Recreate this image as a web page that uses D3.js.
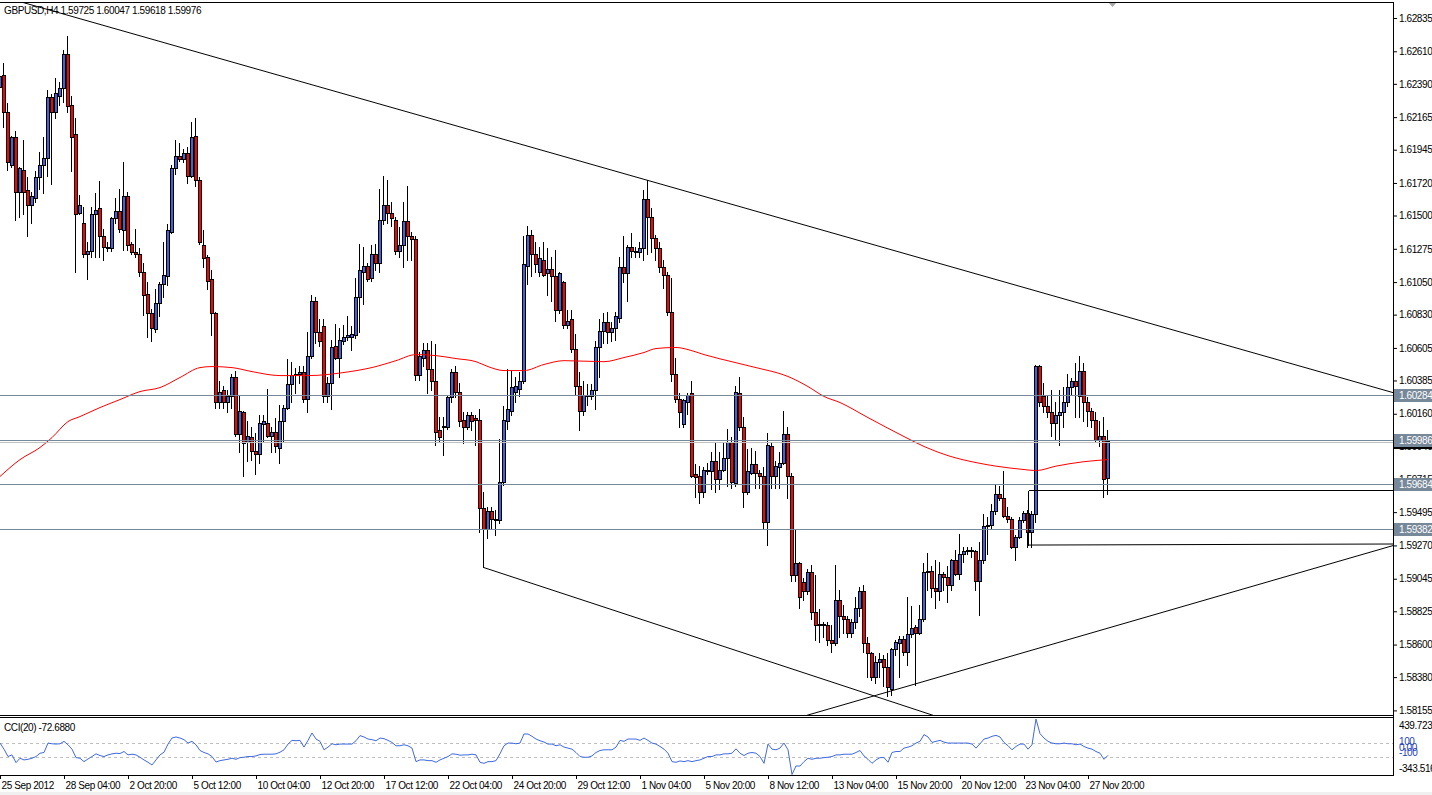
<!DOCTYPE html>
<html>
<head>
<meta charset="utf-8">
<script src="https://cdn.jsdelivr.net/npm/d3@7"></script>
<style>
html, body { margin: 0; padding: 0; background: #fff; }
svg { display: block; }
text { font-family: "Liberation Sans", Arial, sans-serif; font-size: 10px; letter-spacing: -0.4px; }
</style>
</head>
<body>
<svg id="chart" width="1432" height="795"></svg>
<script>
// GBPUSD H4 bars, one row per bar: open, high, low, close
const candles = [
[1.6237,1.6264,1.6214,1.6244],[1.6245,1.6253,1.6210,1.6220],[1.6220,1.6226,1.6181,1.6186],[1.6184,1.6204,1.6183,1.6203],
[1.6203,1.6207,1.6147,1.6166],[1.6166,1.6183,1.6149,1.6182],[1.6181,1.6201,1.6151,1.6166],[1.6167,1.6176,1.6136,1.6157],
[1.6157,1.6166,1.6145,1.6163],[1.6162,1.6180,1.6159,1.6176],[1.6176,1.6193,1.6168,1.6184],[1.6184,1.6203,1.6165,1.6189],
[1.6189,1.6235,1.6177,1.6230],[1.6230,1.6232,1.6171,1.6220],[1.6220,1.6243,1.6216,1.6233],[1.6231,1.6240,1.6225,1.6236],
[1.6236,1.6262,1.6227,1.6259],[1.6259,1.6271,1.6220,1.6224],[1.6225,1.6231,1.6180,1.6203],[1.6205,1.6216,1.6112,1.6151],
[1.6152,1.6164,1.6151,1.6157],[1.6145,1.6156,1.6122,1.6124],[1.6124,1.6132,1.6107,1.6126],[1.6126,1.6156,1.6122,1.6151],
[1.6151,1.6165,1.6122,1.6154],[1.6155,1.6173,1.6122,1.6136],[1.6136,1.6141,1.6120,1.6129],[1.6129,1.6132,1.6126,1.6128],
[1.6128,1.6149,1.6126,1.6148],[1.6148,1.6162,1.6145,1.6153],[1.6153,1.6168,1.6139,1.6141],[1.6140,1.6186,1.6127,1.6163],
[1.6163,1.6166,1.6127,1.6130],[1.6131,1.6132,1.6124,1.6125],[1.6125,1.6141,1.6122,1.6124],[1.6124,1.6128,1.6109,1.6112],
[1.6112,1.6118,1.6083,1.6096],[1.6097,1.6105,1.6068,1.6084],[1.6084,1.6087,1.6065,1.6074],[1.6073,1.6100,1.6071,1.6091],
[1.6091,1.6105,1.6082,1.6104],[1.6104,1.6132,1.6095,1.6110],[1.6109,1.6144,1.6103,1.6140],[1.6139,1.6184,1.6138,1.6182],
[1.6182,1.6201,1.6178,1.6190],[1.6190,1.6199,1.6187,1.6188],[1.6188,1.6195,1.6186,1.6192],[1.6192,1.6196,1.6172,1.6177],
[1.6177,1.6213,1.6176,1.6203],[1.6204,1.6216,1.6170,1.6174],[1.6174,1.6176,1.6131,1.6132],[1.6130,1.6140,1.6115,1.6121],
[1.6122,1.6123,1.6100,1.6106],[1.6107,1.6113,1.6069,1.6084],[1.6084,1.6085,1.6020,1.6024],[1.6024,1.6038,1.6020,1.6031],
[1.6032,1.6035,1.6020,1.6024],[1.6024,1.6032,1.6017,1.6028],[1.6028,1.6043,1.6020,1.6041],[1.6041,1.6045,1.6001,1.6002],
[1.6002,1.6028,1.5990,1.6018],[1.6017,1.6018,1.5974,1.5996],[1.5997,1.6011,1.5984,1.6001],[1.6000,1.6007,1.5985,1.5991],
[1.5991,1.6003,1.5975,1.5989],[1.5989,1.6015,1.5983,1.6010],[1.6009,1.6015,1.5997,1.6011],[1.6010,1.6033,1.6000,1.6001],
[1.6001,1.6007,1.5990,1.6004],[1.6004,1.6013,1.5990,1.5994],[1.5993,1.6022,1.5983,1.6011],[1.6011,1.6022,1.5997,1.6020],
[1.6020,1.6053,1.6019,1.6036],[1.6036,1.6051,1.6024,1.6042],[1.6042,1.6047,1.6030,1.6043],[1.6043,1.6048,1.6037,1.6044],
[1.6044,1.6048,1.6024,1.6026],[1.6026,1.6071,1.6017,1.6055],[1.6055,1.6096,1.6054,1.6092],[1.6092,1.6095,1.6064,1.6071],
[1.6071,1.6080,1.6062,1.6065],[1.6075,1.6080,1.6024,1.6028],[1.6028,1.6041,1.6024,1.6037],[1.6037,1.6066,1.6019,1.6061],
[1.6062,1.6077,1.6053,1.6054],[1.6054,1.6074,1.6041,1.6066],[1.6065,1.6076,1.6063,1.6068],[1.6068,1.6082,1.6066,1.6069],
[1.6068,1.6075,1.6059,1.6070],[1.6069,1.6108,1.6067,1.6095],[1.6095,1.6131,1.6071,1.6113],[1.6112,1.6129,1.6090,1.6116],
[1.6116,1.6118,1.6106,1.6107],[1.6108,1.6130,1.6106,1.6124],[1.6124,1.6131,1.6113,1.6118],[1.6118,1.6168,1.6112,1.6147],
[1.6147,1.6177,1.6144,1.6157],[1.6157,1.6174,1.6145,1.6152],[1.6152,1.6159,1.6143,1.6148],[1.6147,1.6149,1.6124,1.6126],
[1.6126,1.6142,1.6122,1.6130],[1.6130,1.6159,1.6115,1.6146],[1.6146,1.6170,1.6120,1.6136],[1.6136,1.6139,1.6120,1.6134],
[1.6134,1.6136,1.6039,1.6042],[1.6042,1.6058,1.6039,1.6055],[1.6054,1.6064,1.6048,1.6059],[1.6059,1.6064,1.6030,1.6046],
[1.6046,1.6065,1.6032,1.6038],[1.6038,1.6063,1.5995,1.6004],[1.6005,1.6014,1.5997,1.6000],[1.6007,1.6014,1.5988,1.6008],
[1.6007,1.6029,1.6006,1.6027],[1.6027,1.6046,1.6024,1.6044],[1.6044,1.6048,1.6027,1.6031],[1.6031,1.6037,1.6008,1.6011],
[1.6012,1.6017,1.5996,1.6007],[1.6007,1.6017,1.6006,1.6015],[1.6015,1.6017,1.6005,1.6011],[1.6013,1.6015,1.5995,1.6012],
[1.6012,1.6019,1.5936,1.5952],[1.5952,1.5963,1.5932,1.5938],[1.5938,1.5953,1.5932,1.5950],[1.5950,1.5953,1.5939,1.5945],
[1.5944,1.5951,1.5934,1.5945],[1.5944,1.5999,1.5942,1.5970],[1.5970,1.6021,1.5968,1.6012],[1.6011,1.6046,1.6006,1.6019],
[1.6018,1.6045,1.6015,1.6034],[1.6031,1.6041,1.6024,1.6035],[1.6033,1.6044,1.6028,1.6038],[1.6038,1.6136,1.6037,1.6117],
[1.6116,1.6143,1.6104,1.6137],[1.6137,1.6140,1.6109,1.6124],[1.6124,1.6132,1.6112,1.6117],[1.6112,1.6129,1.6109,1.6121],
[1.6120,1.6132,1.6109,1.6110],[1.6111,1.6128,1.6096,1.6114],[1.6114,1.6122,1.6092,1.6109],[1.6109,1.6127,1.6079,1.6086],
[1.6086,1.6112,1.6084,1.6111],[1.6105,1.6106,1.6074,1.6076],[1.6076,1.6086,1.6074,1.6079],[1.6080,1.6086,1.6058,1.6060],
[1.6060,1.6070,1.6029,1.6035],[1.6035,1.6044,1.6005,1.6018],[1.6018,1.6038,1.6015,1.6029],[1.6028,1.6036,1.6022,1.6029],
[1.6028,1.6036,1.6026,1.6032],[1.6032,1.6065,1.6019,1.6061],[1.6061,1.6080,1.6041,1.6072],[1.6072,1.6084,1.6064,1.6078],
[1.6078,1.6085,1.6064,1.6071],[1.6071,1.6078,1.6065,1.6074],[1.6074,1.6085,1.6066,1.6082],[1.6081,1.6122,1.6078,1.6115],
[1.6115,1.6136,1.6105,1.6111],[1.6111,1.6130,1.6092,1.6129],[1.6129,1.6138,1.6122,1.6126],[1.6126,1.6129,1.6122,1.6125],
[1.6125,1.6132,1.6122,1.6128],[1.6128,1.6167,1.6120,1.6161],[1.6161,1.6174,1.6124,1.6149],[1.6149,1.6155,1.6125,1.6135],
[1.6135,1.6137,1.6120,1.6128],[1.6128,1.6132,1.6112,1.6115],[1.6115,1.6120,1.6101,1.6110],[1.6110,1.6112,1.6083,1.6085],
[1.6085,1.6108,1.6038,1.6043],[1.6043,1.6054,1.6024,1.6026],[1.6026,1.6030,1.6007,1.6017],[1.6009,1.6026,1.6007,1.6025],
[1.6024,1.6030,1.6016,1.6029],[1.6030,1.6038,1.5973,1.5974],[1.5975,1.5982,1.5960,1.5973],[1.5974,1.5981,1.5956,1.5963],
[1.5963,1.5980,1.5960,1.5978],[1.5977,1.5983,1.5975,1.5978],[1.5977,1.5990,1.5965,1.5984],[1.5984,1.5997,1.5963,1.5972],
[1.5972,1.5990,1.5965,1.5978],[1.5978,1.5997,1.5977,1.5986],[1.5986,1.6006,1.5967,1.5997],[1.5997,1.6000,1.5966,1.5970],
[1.5969,1.6035,1.5967,1.6031],[1.6030,1.6041,1.6005,1.6007],[1.6007,1.6014,1.5953,1.5963],[1.5963,1.5992,1.5962,1.5977],
[1.5976,1.5993,1.5975,1.5982],[1.5982,1.5991,1.5966,1.5976],[1.5976,1.5978,1.5966,1.5974],[1.5974,1.5980,1.5938,1.5943],
[1.5943,1.6003,1.5927,1.5995],[1.5994,1.5997,1.5966,1.5974],[1.5974,1.5984,1.5966,1.5981],[1.5980,1.5990,1.5966,1.5983],
[1.5983,1.6018,1.5982,1.6002],[1.6002,1.6007,1.5959,1.5974],[1.5974,1.5976,1.5903,1.5907],[1.5907,1.5938,1.5903,1.5915],
[1.5915,1.5916,1.5885,1.5892],[1.5902,1.5905,1.5890,1.5896],[1.5896,1.5911,1.5894,1.5909],[1.5909,1.5914,1.5877,1.5882],
[1.5882,1.5907,1.5863,1.5873],[1.5873,1.5884,1.5862,1.5874],[1.5874,1.5875,1.5865,1.5873],[1.5873,1.5875,1.5860,1.5863],
[1.5863,1.5873,1.5855,1.5861],[1.5861,1.5914,1.5860,1.5890],[1.5890,1.5897,1.5865,1.5879],[1.5879,1.5887,1.5868,1.5877],
[1.5877,1.5879,1.5865,1.5868],[1.5868,1.5877,1.5865,1.5875],[1.5875,1.5892,1.5871,1.5885],[1.5885,1.5899,1.5879,1.5896],
[1.5896,1.5900,1.5855,1.5861],[1.5861,1.5865,1.5838,1.5854],[1.5854,1.5855,1.5836,1.5838],[1.5838,1.5852,1.5834,1.5848],
[1.5848,1.5854,1.5838,1.5850],[1.5850,1.5853,1.5832,1.5845],[1.5845,1.5854,1.5825,1.5831],[1.5830,1.5858,1.5826,1.5857],
[1.5857,1.5863,1.5853,1.5862],[1.5861,1.5866,1.5838,1.5864],[1.5864,1.5866,1.5853,1.5855],[1.5855,1.5892,1.5846,1.5867],
[1.5867,1.5886,1.5865,1.5871],[1.5872,1.5873,1.5833,1.5868],[1.5868,1.5887,1.5867,1.5877],[1.5877,1.5915,1.5876,1.5909],
[1.5909,1.5922,1.5897,1.5910],[1.5910,1.5913,1.5892,1.5898],[1.5898,1.5917,1.5885,1.5896],[1.5896,1.5916,1.5890,1.5908],
[1.5908,1.5909,1.5897,1.5906],[1.5906,1.5913,1.5889,1.5900],[1.5900,1.5918,1.5897,1.5917],[1.5917,1.5924,1.5907,1.5908],
[1.5908,1.5935,1.5904,1.5921],[1.5921,1.5926,1.5916,1.5923],[1.5923,1.5926,1.5921,1.5924],[1.5924,1.5926,1.5919,1.5923],
[1.5923,1.5924,1.5897,1.5903],[1.5903,1.5929,1.5880,1.5917],[1.5917,1.5948,1.5915,1.5940],[1.5940,1.5946,1.5921,1.5941],
[1.5941,1.5955,1.5939,1.5950],[1.5950,1.5968,1.5948,1.5962],[1.5962,1.5967,1.5958,1.5959],[1.5959,1.5977,1.5946,1.5947],
[1.5947,1.5953,1.5943,1.5945],[1.5945,1.5946,1.5925,1.5926],[1.5926,1.5934,1.5917,1.5933],[1.5933,1.5946,1.5932,1.5944],
[1.5944,1.5950,1.5943,1.5949],[1.5949,1.5951,1.5926,1.5936],[1.5936,1.5950,1.5926,1.5948],[1.5948,1.6049,1.5943,1.6048],
[1.6048,1.6049,1.6021,1.6024],[1.6028,1.6037,1.6017,1.6021],[1.6021,1.6028,1.6014,1.6017],[1.6017,1.6032,1.6001,1.6010],
[1.6010,1.6024,1.5998,1.6015],[1.6015,1.6032,1.5995,1.6017],[1.6017,1.6034,1.6007,1.6024],[1.6024,1.6043,1.6021,1.6034],
[1.6034,1.6040,1.6029,1.6038],[1.6038,1.6050,1.6014,1.6035],[1.6028,1.6055,1.6014,1.6045],[1.6045,1.6050,1.6011,1.6024],
[1.6024,1.6027,1.6008,1.6018],[1.6018,1.6020,1.6007,1.6012],[1.6012,1.6017,1.5997,1.5998],[1.5998,1.6011,1.5994,1.6001],
[1.6001,1.6014,1.5960,1.5972],[1.59725,1.60047,1.59618,1.59976]
];

// CCI(20), one value per bar
const cciValues = [
100,14,-90,-67,-176,-114,-138,-129,-114,-90,-43,-33,100,90,86,90,124,76,14,-105,
-114,-162,-124,-90,-52,-76,-90,-67,-52,-43,-48,-19,-67,-57,-67,-100,-138,-171,-209,-138,
-67,-29,86,171,186,171,148,100,124,76,-5,-33,-52,-90,-167,-148,-138,-129,-114,-129,
-105,-100,-90,-90,-81,-62,-57,-57,-57,-52,-29,5,86,138,133,138,43,138,243,157,
124,5,43,90,76,86,86,86,86,133,205,186,157,148,133,171,162,138,109,62,
62,76,62,29,-162,-138,-138,-148,-148,-171,-138,-114,-90,-52,-57,-71,-67,-67,-57,-67,
-171,-186,-162,-162,-148,-50,62,100,100,90,100,228,228,195,157,133,114,86,86,62,
76,43,29,14,-33,-90,-100,-100,-81,-33,-5,5,5,5,43,138,124,157,157,157,
138,171,138,100,86,52,14,-43,-162,-171,-152,-162,-148,-162,-148,-138,-114,-90,-90,-67,
-67,-52,-52,-43,19,-43,-76,-43,-33,-43,-90,-186,86,14,5,29,100,5,-343.516,-224,
-224,-162,-114,-129,-114,-114,-105,-100,-90,-67,-67,-57,-57,-57,-33,-5,-81,-129,-186,-138,
-105,-105,-171,-33,-19,-19,29,43,62,100,124,219,186,109,124,138,114,100,100,100,
100,100,100,86,29,90,157,171,195,209,186,109,62,5,52,86,86,14,76,439.723,
233,171,124,100,90,90,100,90,90,76,86,52,29,14,-19,-43,-129,-72.688
];

// moving average read at a subset of bars
const maBars = [0,5,10,13,17,20,25,30,35,40,45,50,53,58,63,70,77,86,94,99,104,109,114,119,122,126,131,136,
  141,151,156,161,164,169,172,176,184,189,197,202,206,210,217,226,231,237,244,249,256,259,264,271,277];
const maValues = [1.59736,1.59850,1.59932,1.59999,1.60107,1.60141,1.60202,1.60256,1.60310,1.60337,1.60405,
  1.60472,1.60479,1.60472,1.60445,1.60418,1.60418,1.60439,1.60479,1.60519,1.60560,1.60553,1.60533,1.60512,
  1.60479,1.60452,1.60452,1.60493,1.60519,1.60512,1.60540,1.60574,1.60601,1.60608,1.60594,1.60560,1.60505,
  1.60472,1.60412,1.60344,1.60277,1.60236,1.60134,1.60006,1.59939,1.59877,1.59830,1.59806,1.59783,1.59776,
  1.59806,1.59836,1.59850];

const priceTicks = [1.62835,1.62610,1.62390,1.62165,1.61945,1.61720,1.61500,1.61275,1.61050,1.60830,1.60605,
  1.60385,1.60160,1.59940,1.59715,1.59495,1.59270,1.59045,1.58825,1.58600,1.58380,1.58155];
const timeLabels = ["25 Sep 2012","28 Sep 04:00","2 Oct 20:00","5 Oct 12:00","10 Oct 04:00","12 Oct 20:00",
  "17 Oct 12:00","22 Oct 04:00","24 Oct 20:00","29 Oct 12:00","1 Nov 04:00","5 Nov 20:00","8 Nov 12:00",
  "13 Nov 04:00","15 Nov 20:00","20 Nov 12:00","23 Nov 04:00","27 Nov 20:00"];
const levelPrices = [1.60284, 1.59986, 1.59684, 1.59382];
const bidPrice = 1.59976;
const cciRange = [-343.516, 439.723];
const cciLevels = [100, -100];

// trend lines as [bar, price] anchors
const trendTop = [[29.5, 1.62757], [348.25, 1.60303]];
const trendLowLeft = [[121, 1.59120], [232, 1.58133]];
const trendLowRight = [[218.75, 1.58255], [348.25, 1.59269]];
const boxBar = 257, boxTop = 1.59648, boxBottom = [1.59276, 1.59283];

const axisX = 1393;
const svg = d3.select("#chart");

const x = d3.scaleLinear().domain([0, 348.25]).range([0, axisX]);
const y = d3.scaleLinear().domain([1.58155, 1.62835]).range([710.4, 18]);
const yc = d3.scaleLinear().domain(cciRange).range([774.5, 719]);

const defs = svg.append("defs");
defs.append("clipPath").attr("id", "clipMain").append("rect")
    .attr("x", 0).attr("y", 3).attr("width", axisX).attr("height", 712);
defs.append("clipPath").attr("id", "clipCci").append("rect")
    .attr("x", 0).attr("y", 718).attr("width", axisX).attr("height", 57);

// bottom strip
svg.append("rect").attr("x", 0).attr("y", 792).attr("width", 1432).attr("height", 3).attr("fill", "#f0f0f0");

const main = svg.append("g").attr("clip-path", "url(#clipMain)");

// candles
const bars = main.append("g").attr("shape-rendering", "crispEdges");
bars.selectAll("line")
    .data(candles)
    .join("line")
    .attr("x1", (d, i) => Math.round(x(i)) - 0.5)
    .attr("x2", (d, i) => Math.round(x(i)) - 0.5)
    .attr("y1", d => Math.round(y(d[1])))
    .attr("y2", d => Math.round(y(d[2])) + 1)
    .attr("stroke", "#000");
bars.selectAll("rect")
    .data(candles)
    .join("rect")
    .attr("x", (d, i) => Math.round(x(i)) - 1.5)
    .attr("width", 3)
    .attr("y", d => Math.round(y(Math.max(d[0], d[3]))) + 0.5)
    .attr("height", d => Math.max(1, Math.round(y(Math.min(d[0], d[3]))) - Math.round(y(Math.max(d[0], d[3])))))
    .attr("fill", d => d[3] >= d[0] ? "#3f63dc" : "#ff0000")
    .attr("stroke", "#000");

// moving average
main.append("path")
    .datum(maValues)
    .attr("fill", "none")
    .attr("stroke", "#ff0000")
    .attr("stroke-width", 1)
    .attr("d", d3.line().x((d, i) => x(maBars[i])).y(d => y(d)).curve(d3.curveMonotoneX));

// horizontal levels
const lv = main.append("g").attr("shape-rendering", "crispEdges");
lv.selectAll("line")
    .data(levelPrices)
    .join("line")
    .attr("x1", 0).attr("x2", axisX)
    .attr("y1", d => Math.round(y(d)) + 0.5).attr("y2", d => Math.round(y(d)) + 0.5)
    .attr("stroke", "#778899");
lv.append("line")
    .attr("x1", 0).attr("x2", axisX)
    .attr("y1", Math.round(y(bidPrice)) + 1.5).attr("y2", Math.round(y(bidPrice)) + 1.5)
    .attr("stroke", "#c0c0c0");

// trend lines
function extend(a, b, k0, k1) {
    const s = (b[1] - a[1]) / (b[0] - a[0]);
    return [[k0, a[1] + s * (k0 - a[0])], [k1, a[1] + s * (k1 - a[0])]];
}
const seg = d3.line().x(d => x(d[0])).y(d => y(d[1]));
const tl = main.append("g").attr("fill", "none").attr("stroke", "#000");
tl.append("path").attr("d", seg(extend(trendTop[0], trendTop[1], 0, 348.25)));
tl.append("path").attr("d", seg(extend(trendLowLeft[0], trendLowLeft[1], 121, 260)));
tl.append("path").attr("d", seg(extend(trendLowRight[0], trendLowRight[1], 195, 348.25)));
const tlc = main.append("g").attr("stroke", "#000").attr("shape-rendering", "crispEdges");
tlc.append("line")
    .attr("x1", Math.round(x(121)) - 0.5).attr("x2", Math.round(x(121)) - 0.5)
    .attr("y1", y(candles[121][2])).attr("y2", y(trendLowLeft[0][1]));
tlc.append("line")
    .attr("x1", Math.round(x(boxBar)) + 0.5).attr("x2", Math.round(x(boxBar)) + 0.5)
    .attr("y1", Math.round(y(boxTop)) + 0.5).attr("y2", Math.round(y(boxBottom[0])) + 0.5);
tlc.append("line")
    .attr("x1", Math.round(x(boxBar)) + 0.5).attr("x2", axisX)
    .attr("y1", Math.round(y(boxTop)) + 0.5).attr("y2", Math.round(y(boxTop)) + 0.5);
main.append("line").attr("stroke", "#000")
    .attr("x1", Math.round(x(boxBar)) + 0.5).attr("x2", axisX)
    .attr("y1", y(boxBottom[0]) + 0.5).attr("y2", y(boxBottom[1]) + 0.5);

// chart shift marker
svg.append("path").attr("d", "M1108,2 L1117,2 L1112.5,7 Z").attr("fill", "#a8a8a8");

// header
svg.append("text").attr("x", 4).attr("y", 14).attr("fill", "#000")
    .text("GBPUSD,H4  " + candles[candles.length - 1].map(d => d.toFixed(5)).join(" "));

// CCI panel
const cp = svg.append("g").attr("clip-path", "url(#clipCci)");
cp.selectAll("line")
    .data(cciLevels)
    .join("line")
    .attr("x1", 0).attr("x2", axisX)
    .attr("y1", d => Math.round(yc(d)) + 0.5).attr("y2", d => Math.round(yc(d)) + 0.5)
    .attr("stroke", "#c0c0c0").attr("stroke-dasharray", "3,3").attr("shape-rendering", "crispEdges");
cp.append("path")
    .datum(cciValues)
    .attr("fill", "none")
    .attr("stroke", "#4169e1")
    .attr("d", d3.line().x((d, i) => x(i)).y(d => yc(d)));
svg.append("text").attr("x", 4).attr("y", 731).attr("fill", "#000")
    .text("CCI(20) " + cciValues[cciValues.length - 1].toFixed(4));

// frame
const fr = svg.append("g").attr("stroke", "#000").attr("shape-rendering", "crispEdges");
fr.append("line").attr("x1", 0).attr("x2", axisX + 0.5).attr("y1", 2.5).attr("y2", 2.5);
fr.append("line").attr("x1", axisX + 0.5).attr("x2", axisX + 0.5).attr("y1", 2.5).attr("y2", 775.5);
fr.append("line").attr("x1", 0).attr("x2", axisX).attr("y1", 715.5).attr("y2", 715.5);
fr.append("line").attr("x1", 0).attr("x2", axisX).attr("y1", 717.5).attr("y2", 717.5);
fr.append("line").attr("x1", 0).attr("x2", axisX).attr("y1", 775.5).attr("y2", 775.5);

// price axis
const yAxis = d3.axisRight(y).tickValues(priceTicks).tickSize(4).tickPadding(2).tickFormat(d3.format(".5f"));
const ya = svg.append("g").attr("transform", `translate(${axisX},0)`).call(yAxis);
ya.select(".domain").remove();
ya.attr("font-family", null).attr("font-size", null);
ya.selectAll("text").attr("fill", "#000");

// price labels of the level lines
const tags = svg.append("g").attr("shape-rendering", "crispEdges");
tags.append("rect").attr("x", axisX + 1).attr("y", Math.round(y(bidPrice)) - 5).attr("width", 38).attr("height", 13).attr("fill", "#000");
tags.append("text").attr("x", axisX + 6).attr("y", Math.round(y(bidPrice)) + 5).attr("fill", "#fff").text(bidPrice.toFixed(5));
levelPrices.forEach(p => {
    const cy = Math.round(y(p));
    tags.append("rect").attr("x", axisX + 1).attr("y", cy - 6).attr("width", 38).attr("height", 13).attr("fill", "#778899");
    tags.append("text").attr("x", axisX + 6).attr("y", cy + 4).attr("fill", "#fff").text(p.toFixed(5));
});

// CCI scale labels
const cciTags = [
    {v: cciRange[1].toFixed(3), y: 728.5, c: "#000"},
    {v: "100", y: 745, c: "#1f3fbf"},
    {v: "0.00", y: 750.5, c: "#1f3fbf"},
    {v: "-100", y: 756, c: "#1f3fbf"},
    {v: cciRange[0].toFixed(3), y: 772, c: "#000"}
];
svg.append("g").selectAll("text").data(cciTags).join("text")
    .attr("x", axisX + 6).attr("y", d => d.y).attr("fill", d => d.c).text(d => d.v);

// time axis
const xAxis = d3.axisBottom(x)
    .tickValues(timeLabels.map((t, i) => i * 16))
    .tickFormat((d, i) => timeLabels[i])
    .tickSize(4).tickPadding(3);
const xa = svg.append("g").attr("transform", "translate(0,775)").call(xAxis);
xa.select(".domain").remove();
xa.attr("font-family", null).attr("font-size", null);
xa.selectAll("text").attr("text-anchor", "start").attr("dx", 1).attr("fill", "#000");
</script>
</body>
</html>
